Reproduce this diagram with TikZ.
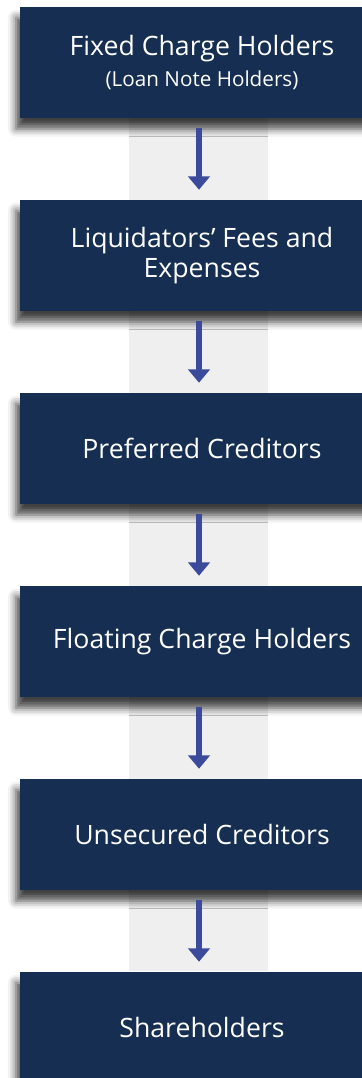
\documentclass[tikz,border=0pt]{standalone}
\usepackage{fontspec}
\setmainfont{Open Sans}
\usetikzlibrary{arrows.meta,shadows.blur}

\definecolor{boxnavy}{HTML}{152E52}
\definecolor{arrowblue}{HTML}{3B4A9B}
\definecolor{bandgray}{HTML}{EFEFEF}

\tikzset{
    stagebox/.style={fill=boxnavy, text=white, minimum width=273pt, minimum height=83.25pt,
        inner sep=0pt, align=center, font=\fontsize{20}{22}\selectfont,
        blur shadow={shadow xshift=-3pt, shadow yshift=-8pt, shadow blur radius=6pt, shadow opacity=75}},
    flowarrow/.style={arrowblue, line width=4.5pt, -{Triangle[width=16pt,length=10pt]}}
}

\begin{document}
\begin{tikzpicture}[x=0.75pt, y=-0.75pt]
        \useasboundingbox (0,0) rectangle (361,1078);
        % Background band
        \fill[bandgray] (129,118) rectangle (268,971);

        % Ranking boxes
        \foreach \i/\txt in {1/{Fixed Charge Holders\\[1pt]{\fontsize{15.5}{18}\selectfont (Loan Note Holders)}},
                             2/{Liquidators’ Fees and\\Expenses},
                             3/{Preferred Creditors},
                             4/{Floating Charge Holders},
                             5/{Unsecured Creditors},
                             6/{Shareholders}} {
            \node[stagebox] (b\i) at (202, 62.5+193*\i-193) {\txt};
        }

        % Arrows
        \foreach \i [evaluate=\i as \j using int(\i+1)] in {1,...,5} {
            \draw[flowarrow] ([xshift=-2.25pt, yshift=-7pt]b\i.south) -- ([xshift=-2.25pt, yshift=7.5pt]b\j.north);
        }
    \end{tikzpicture}
\end{document}
